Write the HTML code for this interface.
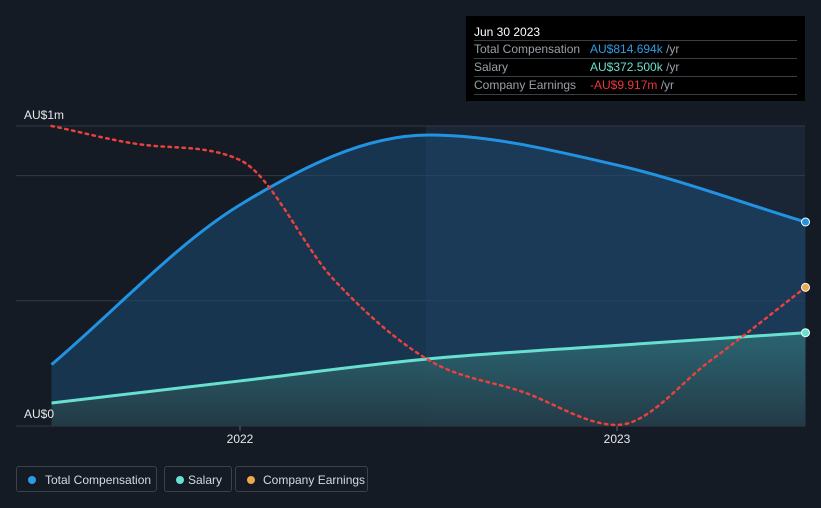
<!DOCTYPE html>
<html><head><meta charset="utf-8"><style>
body{margin:0;background:#151b24;width:821px;height:508px;overflow:hidden;font-family:"Liberation Sans",sans-serif}
#tip{position:absolute;left:466px;top:16px;width:339px;height:85px;background:#000;color:#fff;font-size:12px}
#tip .h{position:absolute;left:8px;top:9px;font-size:12px}
.r{position:absolute;left:8px;width:323px;border-top:1px solid #3a3f46;height:17px;line-height:17px;color:#9aa0a8}
.r span.v{position:absolute;left:116px}
.lg{position:absolute;top:466px;height:26px;border:1px solid #3a414b;border-radius:3px;color:#d5d9de;font-size:12px;line-height:26px;box-sizing:border-box}
.lg i{position:absolute;left:11px;top:9px;width:8px;height:8px;border-radius:50%}
</style></head><body>
<svg width="821" height="508" style="position:absolute;left:0;top:0">
<defs>
<linearGradient id="gs" x1="0" y1="0" x2="0" y2="1"><stop offset="0" stop-color="#2f6e78" stop-opacity="0.8"/><stop offset="1" stop-color="#243a44" stop-opacity="0.9"/></linearGradient>
</defs>
<rect x="426" y="126" width="379" height="300" fill="#1a2635"/>
<g id="grid"></g>
<g id="marks"></g>
<text x="24" y="119" fill="#e6e8eb" font-size="12">AU$1m</text>
<text x="24" y="418" fill="#e6e8eb" font-size="12">AU$0</text>
<g id="xt"></g>
</svg>
<div id="tip">
<div class="h">Jun 30 2023</div>
<div class="r" style="top:24px">Total Compensation<span class="v" style="color:#2f9be6">AU$814.694k <span style="color:#9aa0a8">/yr</span></span></div>
<div class="r" style="top:42px">Salary<span class="v" style="color:#68e0cf">AU$372.500k <span style="color:#9aa0a8">/yr</span></span></div>
<div class="r" style="top:60px;border-bottom:1px solid #3a3f46">Company Earnings<span class="v" style="color:#f0363c">-AU$9.917m <span style="color:#9aa0a8">/yr</span></span></div>
</div>
<div class="lg" style="left:16px;width:141px;padding-left:28px"><i style="background:#2f9be6"></i>Total Compensation</div>
<div class="lg" style="left:164px;width:68px;padding-left:23px"><i style="background:#68e0cf"></i>Salary</div>
<div class="lg" style="left:235px;width:133px;padding-left:27px"><i style="background:#f0a94a"></i>Company Earnings</div>
<script>
const years=[2021.5,2022.0,2022.5,2023.0,2023.5];
const totalComp=[245,883,1162,1042,814.694];
const salary=[92,180,268,322,372.5];
const earnYears=[2021.5,2021.75,2022.0,2022.25,2022.5,2022.75,2023.0,2023.25,2023.5];
const earnings=[-4.0,-4.7,-5.25,-9.65,-12.58,-13.75,-14.96,-12.58,-9.917];
const xTicks=[2022,2023];
const gridVals=[1198,1000,500,0];
const X=t=>240+(t-2022)*377;
const Y=v=>426-v*0.2504;
const YE=v=>126+(-4-v)*300/11;
const NS='http://www.w3.org/2000/svg';
function mono(pts){const n=pts.length,d=[],m=[];for(let i=0;i<n-1;i++)d.push((pts[i+1][1]-pts[i][1])/(pts[i+1][0]-pts[i][0]));
m[0]=d[0];m[n-1]=d[n-2];for(let i=1;i<n-1;i++)m[i]=d[i-1]*d[i]<=0?0:(d[i-1]+d[i])/2;
for(let i=0;i<n-1;i++){if(d[i]===0){m[i]=m[i+1]=0;continue}const a=m[i]/d[i],b=m[i+1]/d[i],s=a*a+b*b;if(s>9){const t=3/Math.sqrt(s);m[i]=t*a*d[i];m[i+1]=t*b*d[i];}}
let p='M'+pts[0][0]+','+pts[0][1];for(let i=0;i<n-1;i++){const h=(pts[i+1][0]-pts[i][0])/3;p+=` C${pts[i][0]+h},${pts[i][1]+m[i]*h} ${pts[i+1][0]-h},${pts[i+1][1]-m[i+1]*h} ${pts[i+1][0]},${pts[i+1][1]}`;}return p;}
function el(tag,attrs,parent){const e=document.createElementNS(NS,tag);for(const k in attrs)e.setAttribute(k,attrs[k]);document.getElementById(parent).appendChild(e);return e;}
gridVals.forEach(v=>{const g=el('line',{x1:16,x2:805,y1:Y(v),y2:Y(v),stroke:'#323a46','stroke-width':1},'grid');

});
const tp=years.map((t,i)=>[X(t),Y(totalComp[i])]);
const sp=years.map((t,i)=>[X(t),Y(salary[i])]);
const ep=earnYears.map((t,i)=>[X(t),YE(earnings[i])]);
const x0=X(years[0]),x1=X(years[years.length-1]);
let a=el('path',{d:mono(tp)+` L${x1},426 L${x0},426 Z`,fill:'#1c4a73','fill-opacity':0.55},'marks');


a=el('path',{d:mono(sp)+` L${x1},426 L${x0},426 Z`,fill:'url(#gs)'},'marks');


a=el('path',{d:mono(tp),fill:'none',stroke:'#2293e3','stroke-width':3},'marks');


a=el('path',{d:mono(sp),fill:'none',stroke:'#68e0cf','stroke-width':3},'marks');


a=el('path',{d:mono(ep),fill:'none',stroke:'#e8413e','stroke-width':2.5,'stroke-dasharray':'2.5 4.5','stroke-linecap':'round'},'marks');


[[tp,'#2293e3','total-comp-end-dot'],[sp,'#68e0cf','salary-end-dot'],[ep,'#f0a94a','earnings-end-dot']].forEach(([p,c,n])=>{const q=p[p.length-1];const d=el('circle',{cx:q[0],cy:q[1],r:4,fill:c,stroke:'#fff','stroke-width':1},'marks');

});
xTicks.forEach(t=>{const l=el('line',{x1:X(t),x2:X(t),y1:426,y2:431,stroke:'#5a6270'},'xt');


const tx=el('text',{x:X(t),y:443,fill:'#e6e8eb','font-size':12,'text-anchor':'middle'},'xt');
tx.textContent=t;

});
</script>
</body></html>
